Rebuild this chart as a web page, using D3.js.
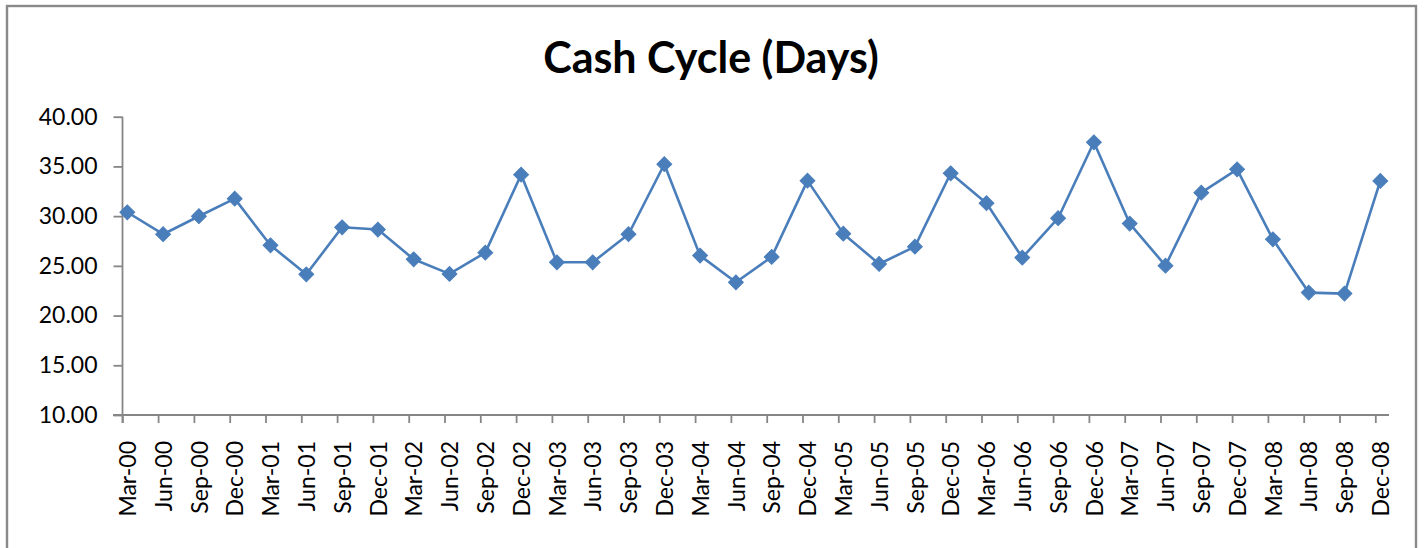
<!DOCTYPE html>
<html>
<head>
<meta charset="utf-8">
<script src="https://cdn.jsdelivr.net/npm/d3@7"></script>
<style>
  html, body { margin: 0; padding: 0; background: #fff; }
  svg { display: block; }
</style>
</head>
<body>
<svg id="chart" width="1424" height="548"></svg>
<script>
const title = "Cash Cycle (Days)";
const categories = ["Mar-00","Jun-00","Sep-00","Dec-00","Mar-01","Jun-01","Sep-01","Dec-01",
  "Mar-02","Jun-02","Sep-02","Dec-02","Mar-03","Jun-03","Sep-03","Dec-03",
  "Mar-04","Jun-04","Sep-04","Dec-04","Mar-05","Jun-05","Sep-05","Dec-05",
  "Mar-06","Jun-06","Sep-06","Dec-06","Mar-07","Jun-07","Sep-07","Dec-07",
  "Mar-08","Jun-08","Sep-08","Dec-08"];
const cashCycle = [30.39,28.18,29.99,31.76,27.07,24.15,28.88,28.65,
  25.66,24.19,26.33,34.17,25.36,25.36,28.18,35.22,
  26.03,23.35,25.90,33.57,28.24,25.19,26.93,34.31,
  31.30,25.83,29.79,37.43,29.25,25.02,32.36,34.71,
  27.67,22.31,22.21,33.54];
const yTicks = [10,15,20,25,30,35,40];

const svg = d3.select("#chart");
const font = "Lato, 'Open Sans', sans-serif";
const axisColor = "#868686";
const seriesColor = "#4a7ebb";

// outer border
svg.append("rect")
  .attr("x", 7).attr("y", 6).attr("width", 1409).attr("height", 570)
  .attr("fill", "#fff").attr("stroke", "#898989").attr("stroke-width", 2.4);

// title
svg.append("text")
  .attr("x", 711).attr("y", 73)
  .attr("text-anchor", "middle")
  .attr("font-family", font).attr("font-weight", "bold").attr("font-size", 43)
  .attr("fill", "#000")
  .text(title);

const y = d3.scaleLinear().domain([10, 40]).range([415, 116.7]);
const x = d3.scalePoint().domain(categories).range([127.3, 127.3 + 35 * 35.8]);
const tickOffset = -5;

// y axis
const yAxis = svg.append("g")
  .attr("transform", "translate(122.5,0)")
  .call(d3.axisLeft(y).tickValues(yTicks).tickSize(9).tickPadding(16).tickFormat(d3.format(".2f")));
yAxis.select(".domain").attr("d", `M0,${y(40)}V423`);
yAxis.selectAll("line").attr("stroke", axisColor).attr("stroke-width", 1.8);
yAxis.select(".domain").attr("stroke", axisColor).attr("stroke-width", 1.8);
yAxis.selectAll("text")
  .attr("font-family", font).attr("font-size", 23).attr("fill", "#000");

// x axis
const xAxis = svg.append("g")
  .attr("transform", `translate(0,${y(10)})`)
  .call(d3.axisBottom(x).tickSize(8).tickSizeOuter(0));
xAxis.select(".domain").attr("d", "M113,0H1389")
  .attr("stroke", axisColor).attr("stroke-width", 1.8);
xAxis.selectAll(".tick line")
  .attr("transform", `translate(${tickOffset},0)`)
  .attr("stroke", axisColor).attr("stroke-width", 1.8);
xAxis.selectAll(".tick text")
  .attr("font-family", font).attr("font-size", 23).attr("fill", "#000")
  .attr("text-anchor", "end")
  .attr("transform", "translate(0,26) rotate(-90)")
  .attr("x", 0).attr("y", 0).attr("dy", "0.36em");

// line
const line = d3.line()
  .x((d, i) => x(categories[i]))
  .y(d => y(d));
svg.append("path")
  .datum(cashCycle)
  .attr("d", line)
  .attr("fill", "none")
  .attr("stroke", seriesColor)
  .attr("stroke-width", 2.6)
  .attr("stroke-linejoin", "round");

// diamond markers
const diamond = d3.symbol().type(d3.symbolSquare).size(110);
svg.append("g").selectAll("path")
  .data(cashCycle)
  .join("path")
  .attr("d", diamond)
  .attr("transform", (d, i) => `translate(${x(categories[i])},${y(d)}) rotate(45)`)
  .attr("fill", seriesColor)
  .attr("stroke", seriesColor)
  .attr("stroke-width", 1);
</script>
</body>
</html>
